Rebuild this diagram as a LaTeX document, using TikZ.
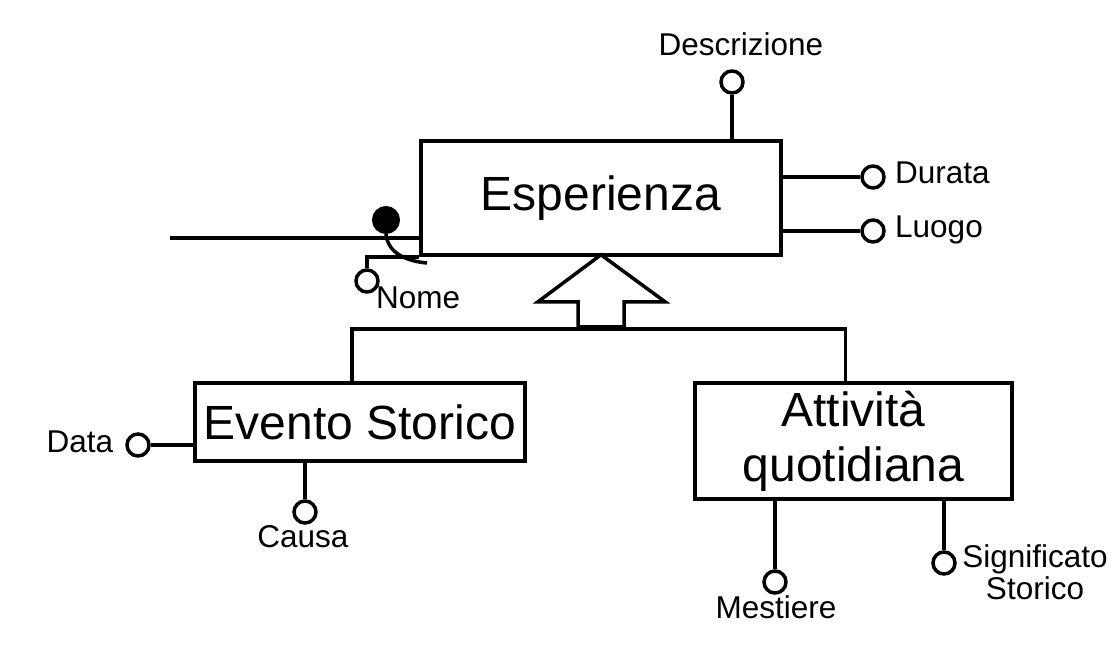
\documentclass[tikz,border=0pt]{standalone}
\usepackage{fontspec}
\setmainfont{Liberation Sans}
\usepackage{xcolor}
\usepackage{tikz}
\usetikzlibrary{positioning}

\begin{document}
\begin{tikzpicture}[
 x=1pt, y=-1pt,
 entity/.style={rectangle, draw, line width=3.5pt, align=center, inner sep=0pt, font=\fontsize{48}{55}\selectfont},
 attr/.style={circle, draw, line width=3.5pt, fill=white, minimum size=22pt, inner sep=0pt},
 keyattr/.style={circle, draw, line width=3pt, fill=black, minimum size=25pt, inner sep=0pt},
 lbl/.style={inner sep=0pt, font=\fontsize{31.5}{32}\selectfont},
 link/.style={line width=3.5pt, line join=miter}
 ]
 \useasboundingbox (0,0) rectangle (1120,648);
 % Entities
 \node[entity, minimum width=360pt, minimum height=114pt] (esp) at (601,198) {Esperienza};
 \node[entity, minimum width=330pt, minimum height=78pt] (evento) at (360,422) {Evento Storico};
 \node[entity, minimum width=317pt, minimum height=116pt] (attivita) at (853.5,441) {Attività\\quotidiana};
 % Attributes
 \node[attr] (desc) at (732,82) {};
 \node[attr] (durata) at (873,177) {};
 \node[attr] (luogo) at (873,231) {};
 \node[attr] (nome) at (367,281) {};
 \node[keyattr] (idf) at (386,220) {};
 \node[attr] (data) at (138,445) {};
 \node[attr] (causa) at (305,512) {};
 \node[attr] (mestiere) at (775,582) {};
 \node[attr] (signif) at (944,563) {};
 % Labels
 \node[lbl, anchor=base] (desclbl) at (741,55) {Descrizione};
 \node[lbl, anchor=base west] (duratalbl) at (895,183) {Durata};
 \node[lbl, anchor=base west] (luogolbl) at (895,237) {Luogo};
 \node[lbl, anchor=base west] (nomelbl) at (376,308) {Nome};
 \node[lbl, anchor=base] (datalbl) at (80,452) {Data};
 \node[lbl, anchor=base] (causalbl) at (303,547) {Causa};
 \node[lbl, anchor=base] (mestierelbl) at (776,618) {Mestiere};
 \node[lbl, align=center] (signiflbl) at (1035,572) {Significato\\Storico};
 % Links
 \draw[link] (desc) -- (desc |- esp.north);
 \draw[link] (durata) -- (durata -| esp.east);
 \draw[link] (luogo) -- (luogo -| esp.east);
 \draw[link] (nome) |- (esp.south west);
 \draw[link] (data) -- (data -| evento.west);
 \draw[link] (causa) -- (causa |- evento.south);
 \draw[link] (mestiere) -- (mestiere |- attivita.south);
 \draw[link] (signif) -- (signif |- attivita.south);
 % External identifier
 \coordinate (ext) at (170,238);
 \coordinate (idend) at (427,263);
 \draw[link] (ext) -- (ext -| esp.west);
 \draw[link] (idf.south) to[out=-85, in=175] (idend);
 % Generalization
 \coordinate (joint) at (601,329);
 \draw[link] ([xshift=-8pt]evento.north) |- (joint) -| ([xshift=-8pt]attivita.north);
 \draw[link, fill=white] ([yshift=2pt]esp.south) -- ++(64,47) -- ++(-41,0) -- ++(0,25) -- ++(-46,0) -- ++(0,-25) -- ++(-40,0) -- cycle;
\end{tikzpicture}
\end{document}
